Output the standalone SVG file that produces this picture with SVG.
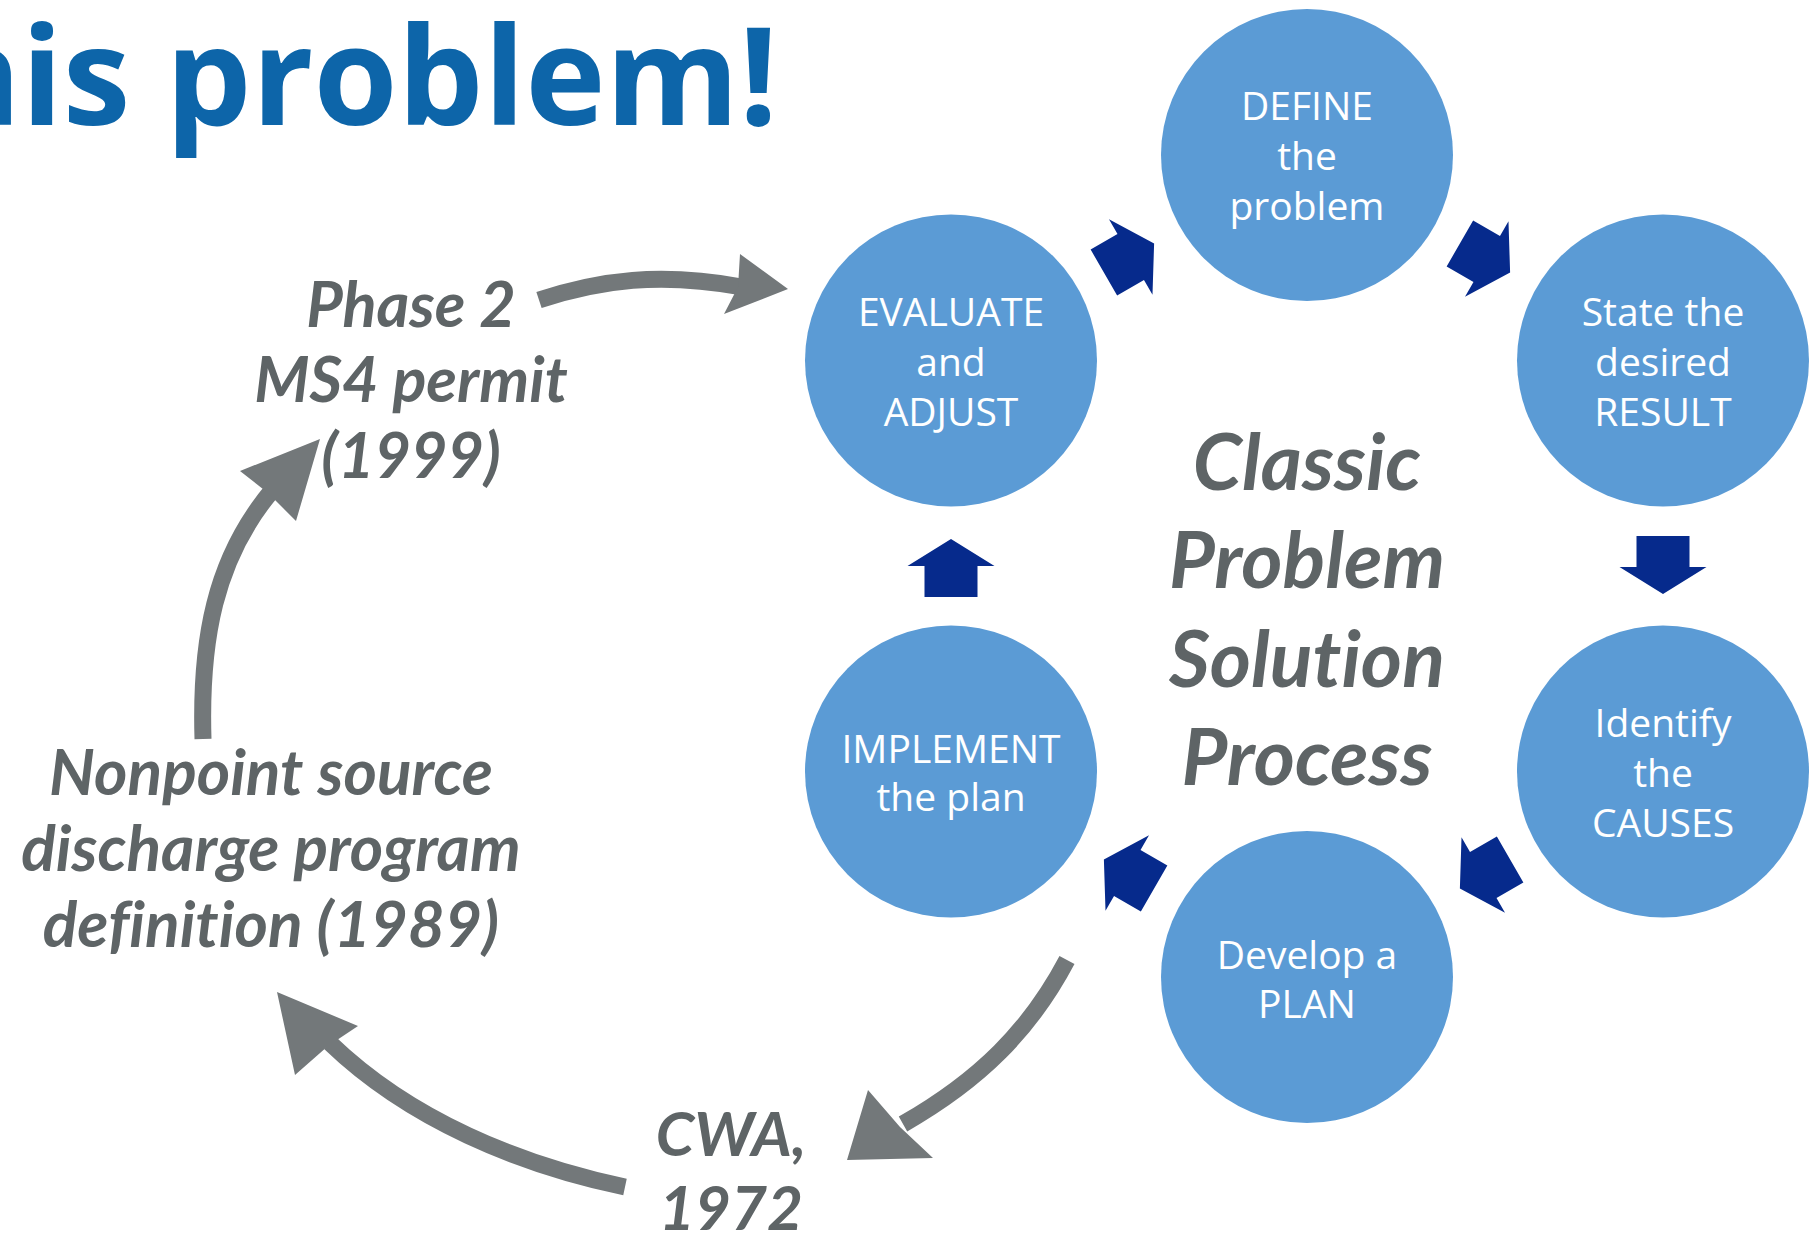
<svg xmlns="http://www.w3.org/2000/svg" width="1816" height="1236" viewBox="0 0 1816 1236">
<style>
.bg{fill:#ffffff}
.node circle{fill:#5b9bd5}
.ct{font-family:"Open Sans","Noto Sans",sans-serif;font-size:39px;fill:#ffffff;text-anchor:middle}
.blk{fill:#062a8c}
.gshaft{fill:none;stroke:#73787a;stroke-width:17;stroke-linecap:butt}
.ghead{fill:#73787a}
.gt{font-family:Lato,"Open Sans",sans-serif;font-weight:bold;font-style:italic;fill:#5e6466;text-anchor:middle;font-variant-ligatures:none;font-feature-settings:"liga" 0}
.title{font-family:"Open Sans","Noto Sans",sans-serif;font-weight:bold;font-size:136px;fill:#0d65a9;text-anchor:end}
</style>
<defs>
<path id="blockArrow" d="M0,-29 L43.5,-2 L26.5,-2 L26.5,29 L-26.5,29 L-26.5,-2 L-43.5,-2 Z"/>
</defs>
<rect class="bg" x="0" y="0" width="1816" height="1236"/>
<text class="title" x="778" y="125">his problem!</text>

<g id="node-define" class="node">
<circle cx="1307" cy="155" r="146"/>
<text class="ct"><tspan x="1307" y="120">DEFINE</tspan><tspan x="1307" y="170">the</tspan><tspan x="1307" y="220">problem</tspan></text>
</g>
<g id="node-state" class="node">
<circle cx="1663" cy="360.5" r="146"/>
<text class="ct"><tspan x="1663" y="325.5">State the</tspan><tspan x="1663" y="375.5">desired</tspan><tspan x="1663" y="425.5">RESULT</tspan></text>
</g>
<g id="node-identify" class="node">
<circle cx="1663" cy="771.5" r="146"/>
<text class="ct"><tspan x="1663" y="737">Identify</tspan><tspan x="1663" y="787">the</tspan><tspan x="1663" y="837">CAUSES</tspan></text>
</g>
<g id="node-develop" class="node">
<circle cx="1307" cy="977" r="146"/>
<text class="ct"><tspan x="1307" y="969">Develop a</tspan><tspan x="1307" y="1018">PLAN</tspan></text>
</g>
<g id="node-implement" class="node">
<circle cx="951" cy="771.5" r="146"/>
<text class="ct"><tspan x="951" y="763">IMPLEMENT</tspan><tspan x="951" y="811">the plan</tspan></text>
</g>
<g id="node-evaluate" class="node">
<circle cx="951" cy="360.5" r="146"/>
<text class="ct"><tspan x="951" y="325.5">EVALUATE</tspan><tspan x="951" y="375.5">and</tspan><tspan x="951" y="425.5">ADJUST</tspan></text>
</g>

<g id="center-title">
<text class="gt" font-size="79"><tspan x="1307" y="490">Classic</tspan><tspan x="1307" y="588">Problem</tspan><tspan x="1307" y="687">Solution</tspan><tspan x="1307" y="785">Process</tspan></text>
</g>

<g id="label-phase2">
<text class="gt" font-size="63"><tspan x="411" y="327">Phase 2</tspan><tspan x="411" y="402">MS4 permit</tspan><tspan x="411" y="478">(1999)</tspan></text>
</g>
<g id="label-nonpoint">
<text class="gt" font-size="64"><tspan x="271" y="795">Nonpoint source</tspan><tspan x="271" y="871">discharge program</tspan><tspan x="271" y="947">definition (1989)</tspan></text>
</g>
<g id="label-cwa">
<text class="gt" font-size="62"><tspan x="731" y="1156">CWA,</tspan><tspan x="731" y="1230">1972</tspan></text>
</g>

<g id="connectors">
<use href="#blockArrow" class="blk" transform="translate(1129,258) rotate(60)"/>
<use href="#blockArrow" class="blk" transform="translate(1485,258) rotate(120)"/>
<use href="#blockArrow" class="blk" transform="translate(1663,565) rotate(180)"/>
<use href="#blockArrow" class="blk" transform="translate(1485,874) rotate(240)"/>
<use href="#blockArrow" class="blk" transform="translate(1129,874) rotate(300)"/>
<use href="#blockArrow" class="blk" transform="translate(951,568) rotate(0)"/>

<path class="gshaft" d="M539,300 C600,280 660,272 742,287"/>
<polygon class="ghead" points="788,289 740,254 738,287 724,314"/>

<path class="gshaft" d="M203,739 C200,640 215,560 270,493"/>
<polygon class="ghead" points="320,439 240,471 268,493 296,521"/>

<path class="gshaft" d="M1067,960 C1030,1030 980,1080 903,1124"/>
<polygon class="ghead" points="847,1160 868,1090 900,1127 933,1158"/>

<path class="gshaft" d="M625,1187 C520,1165 410,1120 330,1043"/>
<polygon class="ghead" points="277,992 358,1026 328,1046 295,1075"/>
</g>
</svg>
